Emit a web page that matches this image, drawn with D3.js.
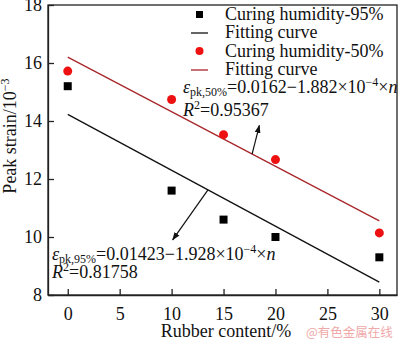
<!DOCTYPE html>
<html><head><meta charset="utf-8">
<script src="https://cdn.jsdelivr.net/npm/d3@7"></script>
<style>body{margin:0;background:#fff}svg{display:block}text{font-family:"Liberation Serif","Times New Roman",serif}</style>
</head><body><svg id="c" width="400" height="340"></svg>
<script>
const rubber = [0, 10, 15, 20, 30];
const strain95 = [15.2, 11.6, 10.6, 10.0, 9.3];
const strain50 = [15.72, 14.74, 13.53, 12.67, 10.14];
const fit95 = {a: 14.23, b: -0.1928};
const fit50 = {a: 16.2, b: -0.1882};
const xTicks = [0, 5, 10, 15, 20, 25, 30];
const yTicks = [8, 10, 12, 14, 16, 18];
const legendLabels = ["Curing humidity-95%", "Fitting curve", "Curing humidity-50%", "Fitting curve"];

const svg = d3.select("#c");
const L = 48, R = 397, T = 5, B = 295;
const x = d3.scaleLinear().domain([-1.9, 31.7]).range([L, R]);
const y = d3.scaleLinear().domain([8, 18]).range([B, T]);
const red = "#ee1111", dred = "#a8262a";

// frame
svg.append("rect").attr("x", L).attr("y", T).attr("width", R - L).attr("height", B - T)
  .attr("fill", "none").attr("stroke", "#222").attr("stroke-width", 1.3);

const xa = svg.append("g").attr("transform", `translate(0,${B})`)
  .call(d3.axisBottom(x).tickValues(xTicks).tickSizeInner(-6).tickSizeOuter(0).tickPadding(12));
const ya = svg.append("g").attr("transform", `translate(${L},0)`)
  .call(d3.axisLeft(y).tickValues(yTicks).tickSizeInner(-6).tickSizeOuter(0).tickPadding(6));
[xa, ya].forEach(a => {
  a.select(".domain").attr("stroke", "#222").attr("stroke-width", 1.3);
  a.selectAll("line").attr("stroke", "#222").attr("stroke-width", 1.3);
  a.selectAll("text").attr("font-size", 18).attr("fill", "#111")
    .style("font-family", '"Liberation Serif", serif');
});

// fit lines
const line = d3.line().x(d => x(d[0])).y(d => y(d[1]));
svg.append("path").datum([0, 30].map(n => [n, fit95.a + fit95.b * n]))
  .attr("d", line).attr("stroke", "#111").attr("stroke-width", 1.3).attr("fill", "none");
svg.append("path").datum([0, 30].map(n => [n, fit50.a + fit50.b * n]))
  .attr("d", line).attr("stroke", dred).attr("stroke-width", 1.3).attr("fill", "none");

// points
svg.selectAll("rect.p95").data(rubber).enter().append("rect")
  .attr("x", (d) => x(d) - 4).attr("y", (d, i) => y(strain95[i]) - 4)
  .attr("width", 8).attr("height", 8).attr("fill", "#000");
svg.selectAll("circle.p50").data(rubber).enter().append("circle")
  .attr("cx", d => x(d)).attr("cy", (d, i) => y(strain50[i])).attr("r", 4.5).attr("fill", red);

// arrows
const defs = svg.append("defs");
defs.append("marker").attr("id", "ah").attr("viewBox", "0 0 10 10").attr("refX", 9).attr("refY", 5)
  .attr("markerWidth", 7).attr("markerHeight", 7).attr("orient", "auto")
  .append("path").attr("d", "M0,1.5 L10,5 L0,8.5 Z").attr("fill", "#111");
const arrows = [
  {from: [17.75, fit50.a + fit50.b * 17.75], to: [18.45, 13.85]},
  {from: [13.5, fit95.a + fit95.b * 13.5], to: [10.1, 9.9]}
];
arrows.forEach(a => {
  svg.append("line").attr("x1", x(a.from[0])).attr("y1", y(a.from[1]))
    .attr("x2", x(a.to[0])).attr("y2", y(a.to[1]))
    .attr("stroke", "#111").attr("stroke-width", 1.2).attr("marker-end", "url(#ah)");
});

// equations
function eq(px, py, sub, rest) {
  const t = svg.append("text").attr("x", px).attr("y", py).attr("font-size", 18).attr("fill", "#111");
  t.append("tspan").attr("font-style", "italic").text("ε");
  t.append("tspan").attr("font-size", 12).attr("dy", 3).text(sub);
  t.append("tspan").attr("dy", -3).text(rest);
  t.append("tspan").attr("font-size", 12).attr("dy", -7).text("−4");
  t.append("tspan").attr("dy", 7).text("×");
  t.append("tspan").attr("font-style", "italic").text("n");
}
function r2(px, py, val) {
  const t = svg.append("text").attr("x", px).attr("y", py).attr("font-size", 18).attr("fill", "#111");
  t.append("tspan").attr("font-style", "italic").text("R");
  t.append("tspan").attr("font-size", 12).attr("dy", -7).text("2");
  t.append("tspan").attr("dy", 7).text("=" + val);
}
eq(183, 93, "pk,50%", "=0.0162−1.882×10");
r2(183, 116, "0.95367");
eq(52, 260, "pk,95%", "=0.01423−1.928×10");
r2(52, 278, "0.81758");

// legend
const lg = svg.append("g");
const rows = [20, 38, 57, 75];
lg.append("rect").attr("x", 196).attr("y", rows[0] - 9).attr("width", 7).attr("height", 7).attr("fill", "#000");
lg.append("line").attr("x1", 191).attr("x2", 208).attr("y1", rows[1] - 5).attr("y2", rows[1] - 5).attr("stroke", "#111").attr("stroke-width", 1.3);
lg.append("circle").attr("cx", 199.5).attr("cy", rows[2] - 6).attr("r", 4).attr("fill", red);
lg.append("line").attr("x1", 191).attr("x2", 208).attr("y1", rows[3] - 5).attr("y2", rows[3] - 5).attr("stroke", dred).attr("stroke-width", 1.3);
legendLabels.forEach((s, i) => {
  lg.append("text").attr("x", 225).attr("y", rows[i]).attr("font-size", 18).attr("fill", "#111").text(s);
});

// axis titles
svg.append("text").attr("x", 226).attr("y", 337).attr("text-anchor", "middle").attr("font-size", 18)
  .attr("fill", "#111").text("Rubber content/%");
const yt = svg.append("text").attr("transform", "translate(16,136) rotate(-90)").attr("text-anchor", "middle")
  .attr("font-size", 18).attr("fill", "#111");
yt.append("tspan").text("Peak strain/10");
yt.append("tspan").attr("font-size", 12).attr("dy", -7).text("−3");

// watermark
svg.append("text").attr("x", 306).attr("y", 337).attr("font-size", 12.5).attr("fill", "#f0a8a8")
  .style("font-family", '"Noto Sans CJK SC", sans-serif').text("@有色金属在线");
</script></body></html>
